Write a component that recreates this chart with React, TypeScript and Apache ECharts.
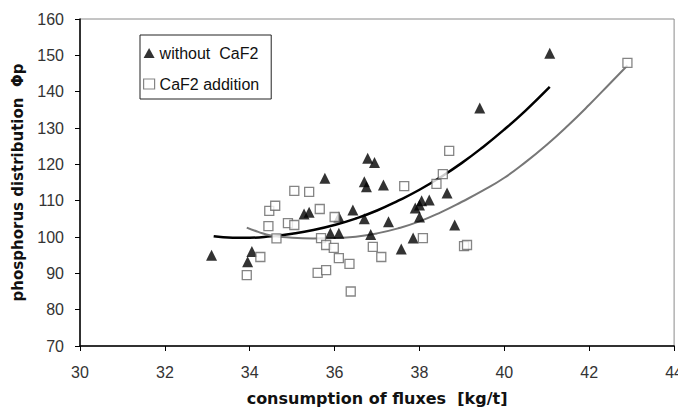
import React, { useEffect, useRef } from "react";
import * as echarts from "echarts";

const withoutCaF2: [number, number][] = [
  [33.1, 95], [33.95, 93.2], [34.05, 96], [35.28, 106.3], [35.4, 106.8],
  [35.77, 116.2], [35.9, 101], [36.1, 101], [36.1, 105.5], [36.43, 107.4],
  [36.7, 105], [36.7, 115.2], [36.75, 113.8], [36.78, 121.7], [36.94, 120.5],
  [36.85, 100.7], [37.15, 114.3], [37.27, 104.2], [37.57, 96.7], [37.85, 99.7],
  [37.9, 108], [38.0, 108.8], [38.05, 110], [38.23, 110.2], [38.0, 105.5],
  [38.65, 112.1], [38.83, 103.3], [39.42, 135.5], [41.07, 150.6],
];

const caf2Addition: [number, number][] = [
  [33.93, 89.5], [34.25, 94.5], [34.44, 103], [34.46, 107.2], [34.6, 108.6],
  [34.63, 99.6], [34.9, 103.8], [35.05, 103.3], [35.05, 112.7], [35.4, 112.4],
  [35.6, 90.1], [35.65, 107.7], [35.68, 99.7], [35.8, 90.9], [35.8, 97.8],
  [35.98, 97], [36.0, 105.5], [36.1, 94.2], [36.35, 92.6], [36.38, 85],
  [36.9, 97.3], [37.1, 94.5], [37.64, 114], [38.08, 99.7], [38.4, 114.6],
  [38.55, 117.3], [38.7, 123.7], [39.05, 97.5], [39.12, 97.8], [42.9, 147.9],
];

const trendWithout: [number, number][] = [
  [33.15, 100.2], [33.6, 99.8], [34, 99.8], [34.5, 100.2], [35, 100.9],
  [35.5, 101.9], [36, 103.3], [36.5, 105.1], [37, 107.3], [37.5, 110],
  [38, 113], [38.5, 116.5], [39, 120.4], [39.5, 124.8], [40, 129.6],
  [40.5, 134.8], [41.07, 141.3],
];

const trendCaF2: [number, number][] = [
  [33.93, 102.6], [34.2, 101.4], [34.5, 100.4], [35, 99.8], [35.5, 99.6],
  [36, 99.7], [36.5, 100.1], [37, 101], [37.5, 102.4], [38, 104.3],
  [38.5, 106.8], [39, 109.7], [39.5, 112.8], [40, 116.3], [40.5, 120.6],
  [41, 125.4], [41.5, 130.7], [42, 136.4], [42.5, 142.4], [42.9, 147.2],
];

const FONT = "Liberation Sans, Arial, sans-serif";
const TITLE_FONT = "DejaVu Sans, sans-serif";

export default function App() {
  const ref = useRef<HTMLDivElement>(null);
  useEffect(() => {
    if (!ref.current) return;
    const chart = echarts.init(ref.current, undefined, { renderer: "svg" });
    chart.setOption({
      animation: false,
      backgroundColor: "#ffffff",
      grid: {
        left: 80,
        right: 7,
        top: 19,
        bottom: 69,
        show: true,
        borderColor: "#8a8a8a",
        borderWidth: 1,
        backgroundColor: "transparent",
      },
      legend: {
        data: [
          { name: "without CaF2", icon: "triangle", itemStyle: { color: "#000" } },
          {
            name: "CaF2 addition",
            icon: "rect",
            itemStyle: { color: "#fff", borderColor: "#666", borderWidth: 1.2 },
          },
        ],
        formatter: (n: string) => (n === "without CaF2" ? "without  CaF2" : n),
        orient: "vertical",
        left: 140,
        top: 35,
        borderColor: "#222",
        borderWidth: 1,
        padding: [10, 12, 7, 3],
        itemGap: 15,
        itemWidth: 11,
        itemHeight: 10,
        textStyle: { fontFamily: FONT, fontSize: 16, color: "#111" },
      },
      xAxis: {
        type: "value",
        min: 30,
        max: 44,
        interval: 2,
        name: "consumption of fluxes  [kg/t]",
        nameLocation: "middle",
        nameGap: 44,
        nameTextStyle: { fontFamily: TITLE_FONT, fontSize: 16, fontWeight: "bold", color: "#111" },
        axisLine: { show: true, onZero: false, lineStyle: { color: "#000", width: 1.5 } },
        axisTick: { show: true, length: 5, lineStyle: { color: "#000" } },
        axisLabel: { fontFamily: FONT, fontSize: 16, color: "#333", margin: 18 },
        splitLine: { show: false },
      },
      yAxis: {
        type: "value",
        min: 70,
        max: 160,
        interval: 10,
        name: "phosphorus distribution  Φp",
        nameLocation: "middle",
        nameGap: 55,
        nameRotate: 90,
        nameTextStyle: { fontFamily: TITLE_FONT, fontSize: 15, fontWeight: "bold", color: "#111" },
        axisLine: { show: true, onZero: false, lineStyle: { color: "#000", width: 1.5 } },
        axisTick: { show: true, length: 5, lineStyle: { color: "#000" } },
        axisLabel: { fontFamily: FONT, fontSize: 16, color: "#333", margin: 16 },
        splitLine: { show: false },
      },
      series: [
        {
          name: "trend without",
          type: "line",
          data: trendWithout,
          smooth: 0.5,
          showSymbol: false,
          lineStyle: { color: "#000", width: 2.5 },
          z: 2,
        },
        {
          name: "trend caf2",
          type: "line",
          data: trendCaF2,
          smooth: 0.5,
          showSymbol: false,
          lineStyle: { color: "#777", width: 2 },
          z: 2,
        },
        {
          name: "without CaF2",
          type: "scatter",
          data: withoutCaF2,
          symbol: "triangle",
          symbolSize: 11,
          itemStyle: { color: "#000" },
          z: 3,
        },
        {
          name: "CaF2 addition",
          type: "scatter",
          data: caf2Addition,
          symbol: "rect",
          symbolSize: 9,
          itemStyle: { color: "#fff", borderColor: "#666", borderWidth: 1.3 },
          z: 3,
        },
      ],
    });
    return () => chart.dispose();
  }, []);
  return <div ref={ref} style={{ width: 686, height: 415, margin: -8 }} />;
}
